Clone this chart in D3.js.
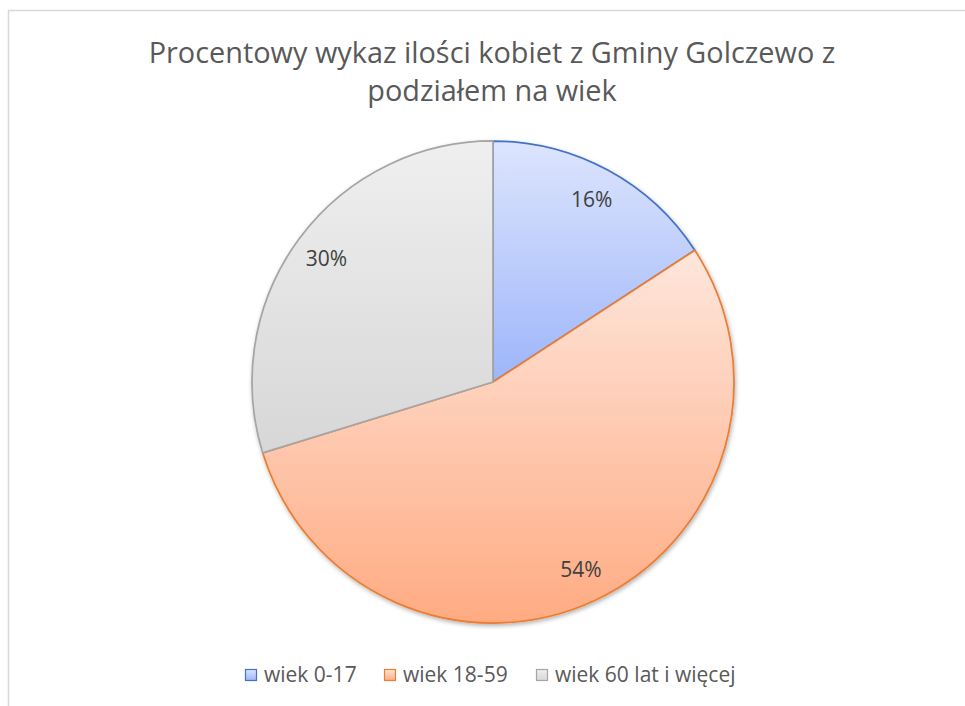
<!DOCTYPE html>
<html>
<head>
	<meta charset="utf-8">
	<script src="https://cdn.jsdelivr.net/npm/d3@7"></script>
	<style>
		html, body {
			padding: 0;
			margin: 0;
			background: #fff;
		}
	</style>
</head>
<body>
	<script>
		var width = 965, height = 706;

		// data
		var categories = ['wiek 0-17', 'wiek 18-59', 'wiek 60 lat i więcej'];
		var values = [15.8, 54.45, 29.75];
		var labels = ['16%', '54%', '30%'];
		var strokeColors = ['#4472c4', '#ed7d31', '#a5a5a5'];
		var topColors = ['#dde5fd', '#fee6dc', '#efefef'];
		var bottomColors = ['#9db5fa', '#ffab82', '#d7d7d7'];

		var svg = d3.select('body').append('svg')
			.attr('width', width)
			.attr('height', height)
			.style('font-family', '"Open Sans", "Noto Sans", sans-serif');

		var defs = svg.append('defs');

		// gradients, one per slice (bounding box of the slice)
		categories.forEach(function(c, i){
			var g = defs.append('linearGradient')
				.attr('id', 'grad' + i)
				.attr('x1', 0).attr('y1', 0)
				.attr('x2', 0).attr('y2', 1);
			g.append('stop').attr('offset', '0%').attr('stop-color', topColors[i]);
			g.append('stop').attr('offset', '100%').attr('stop-color', bottomColors[i]);
		});

		var shadow = defs.append('filter')
			.attr('id', 'shadow')
			.attr('x', '-10%').attr('y', '-10%')
			.attr('width', '120%').attr('height', '120%');
		shadow.append('feDropShadow')
			.attr('dx', 1).attr('dy', 2)
			.attr('stdDeviation', 2)
			.attr('flood-color', '#000')
			.attr('flood-opacity', 0.3);

		// chart area border (runs off the right and bottom edge)
		svg.append('rect')
			.attr('x', 8.5).attr('y', 10.5)
			.attr('width', 1000).attr('height', 800)
			.attr('fill', 'none')
			.attr('stroke', '#d9d9d9')
			.attr('stroke-width', 1.5);

		// scale a text element so it spans the given width
		function fitWidth(sel, target){
			var base = 20;
			sel.style('font-size', base + 'px');
			var s = base * target / sel.node().getComputedTextLength();
			sel.style('font-size', s + 'px');
			return s;
		}

		// title
		var titleLines = ['Procentowy wykaz ilości kobiet z Gminy Golczewo z', 'podziałem na wiek'];
		var t1 = svg.append('text')
			.attr('x', 492).attr('y', 63)
			.attr('text-anchor', 'middle')
			.attr('fill', '#595959')
			.text(titleLines[0]);
		var fs = fitWidth(t1, 687);
		svg.append('text')
			.attr('x', 492).attr('y', 101)
			.attr('text-anchor', 'middle')
			.attr('fill', '#595959')
			.style('font-size', fs + 'px')
			.text(titleLines[1]);

		// pie
		var cx = 493, cy = 382, radius = 241;
		var pie = d3.pie().sort(null).value(function(d){ return d; });
		var arc = d3.arc().innerRadius(0).outerRadius(radius);
		var labelArc = d3.arc().innerRadius(207).outerRadius(207);
		var arcs = pie(values);

		var g = svg.append('g')
			.attr('transform', 'translate(' + cx + ',' + cy + ')');

		g.append('g')
			.attr('filter', 'url(#shadow)')
			.selectAll('path')
			.data(arcs)
			.enter().append('path')
			.attr('d', arc)
			.attr('fill', function(d, i){ return 'url(#grad' + i + ')'; })
			.attr('stroke', function(d, i){ return strokeColors[i]; })
			.attr('stroke-width', 1.75)
			.attr('stroke-linejoin', 'round');

		g.selectAll('text.lbl')
			.data(arcs)
			.enter().append('text')
			.attr('class', 'lbl')
			.attr('transform', function(d){ return 'translate(' + labelArc.centroid(d) + ')'; })
			.attr('text-anchor', 'middle')
			.attr('dy', '0.35em')
			.attr('fill', '#404040')
			.style('font-size', '21px')
			.text(function(d, i){ return labels[i]; });

		// legend
		var legendX = [245, 384, 536];
		var legend = svg.append('g');
		categories.forEach(function(c, i){
			legend.append('rect')
				.attr('x', legendX[i] + 0.5).attr('y', 669.5)
				.attr('width', 11).attr('height', 11)
				.attr('fill', 'url(#grad' + i + ')')
				.attr('stroke', strokeColors[i])
				.attr('stroke-width', 1.2);
			legend.append('text')
				.attr('x', legendX[i] + 19).attr('y', 682)
				.attr('fill', '#595959')
				.style('font-size', '21px')
				.text(c);
		});
	</script>
</body>
</html>
